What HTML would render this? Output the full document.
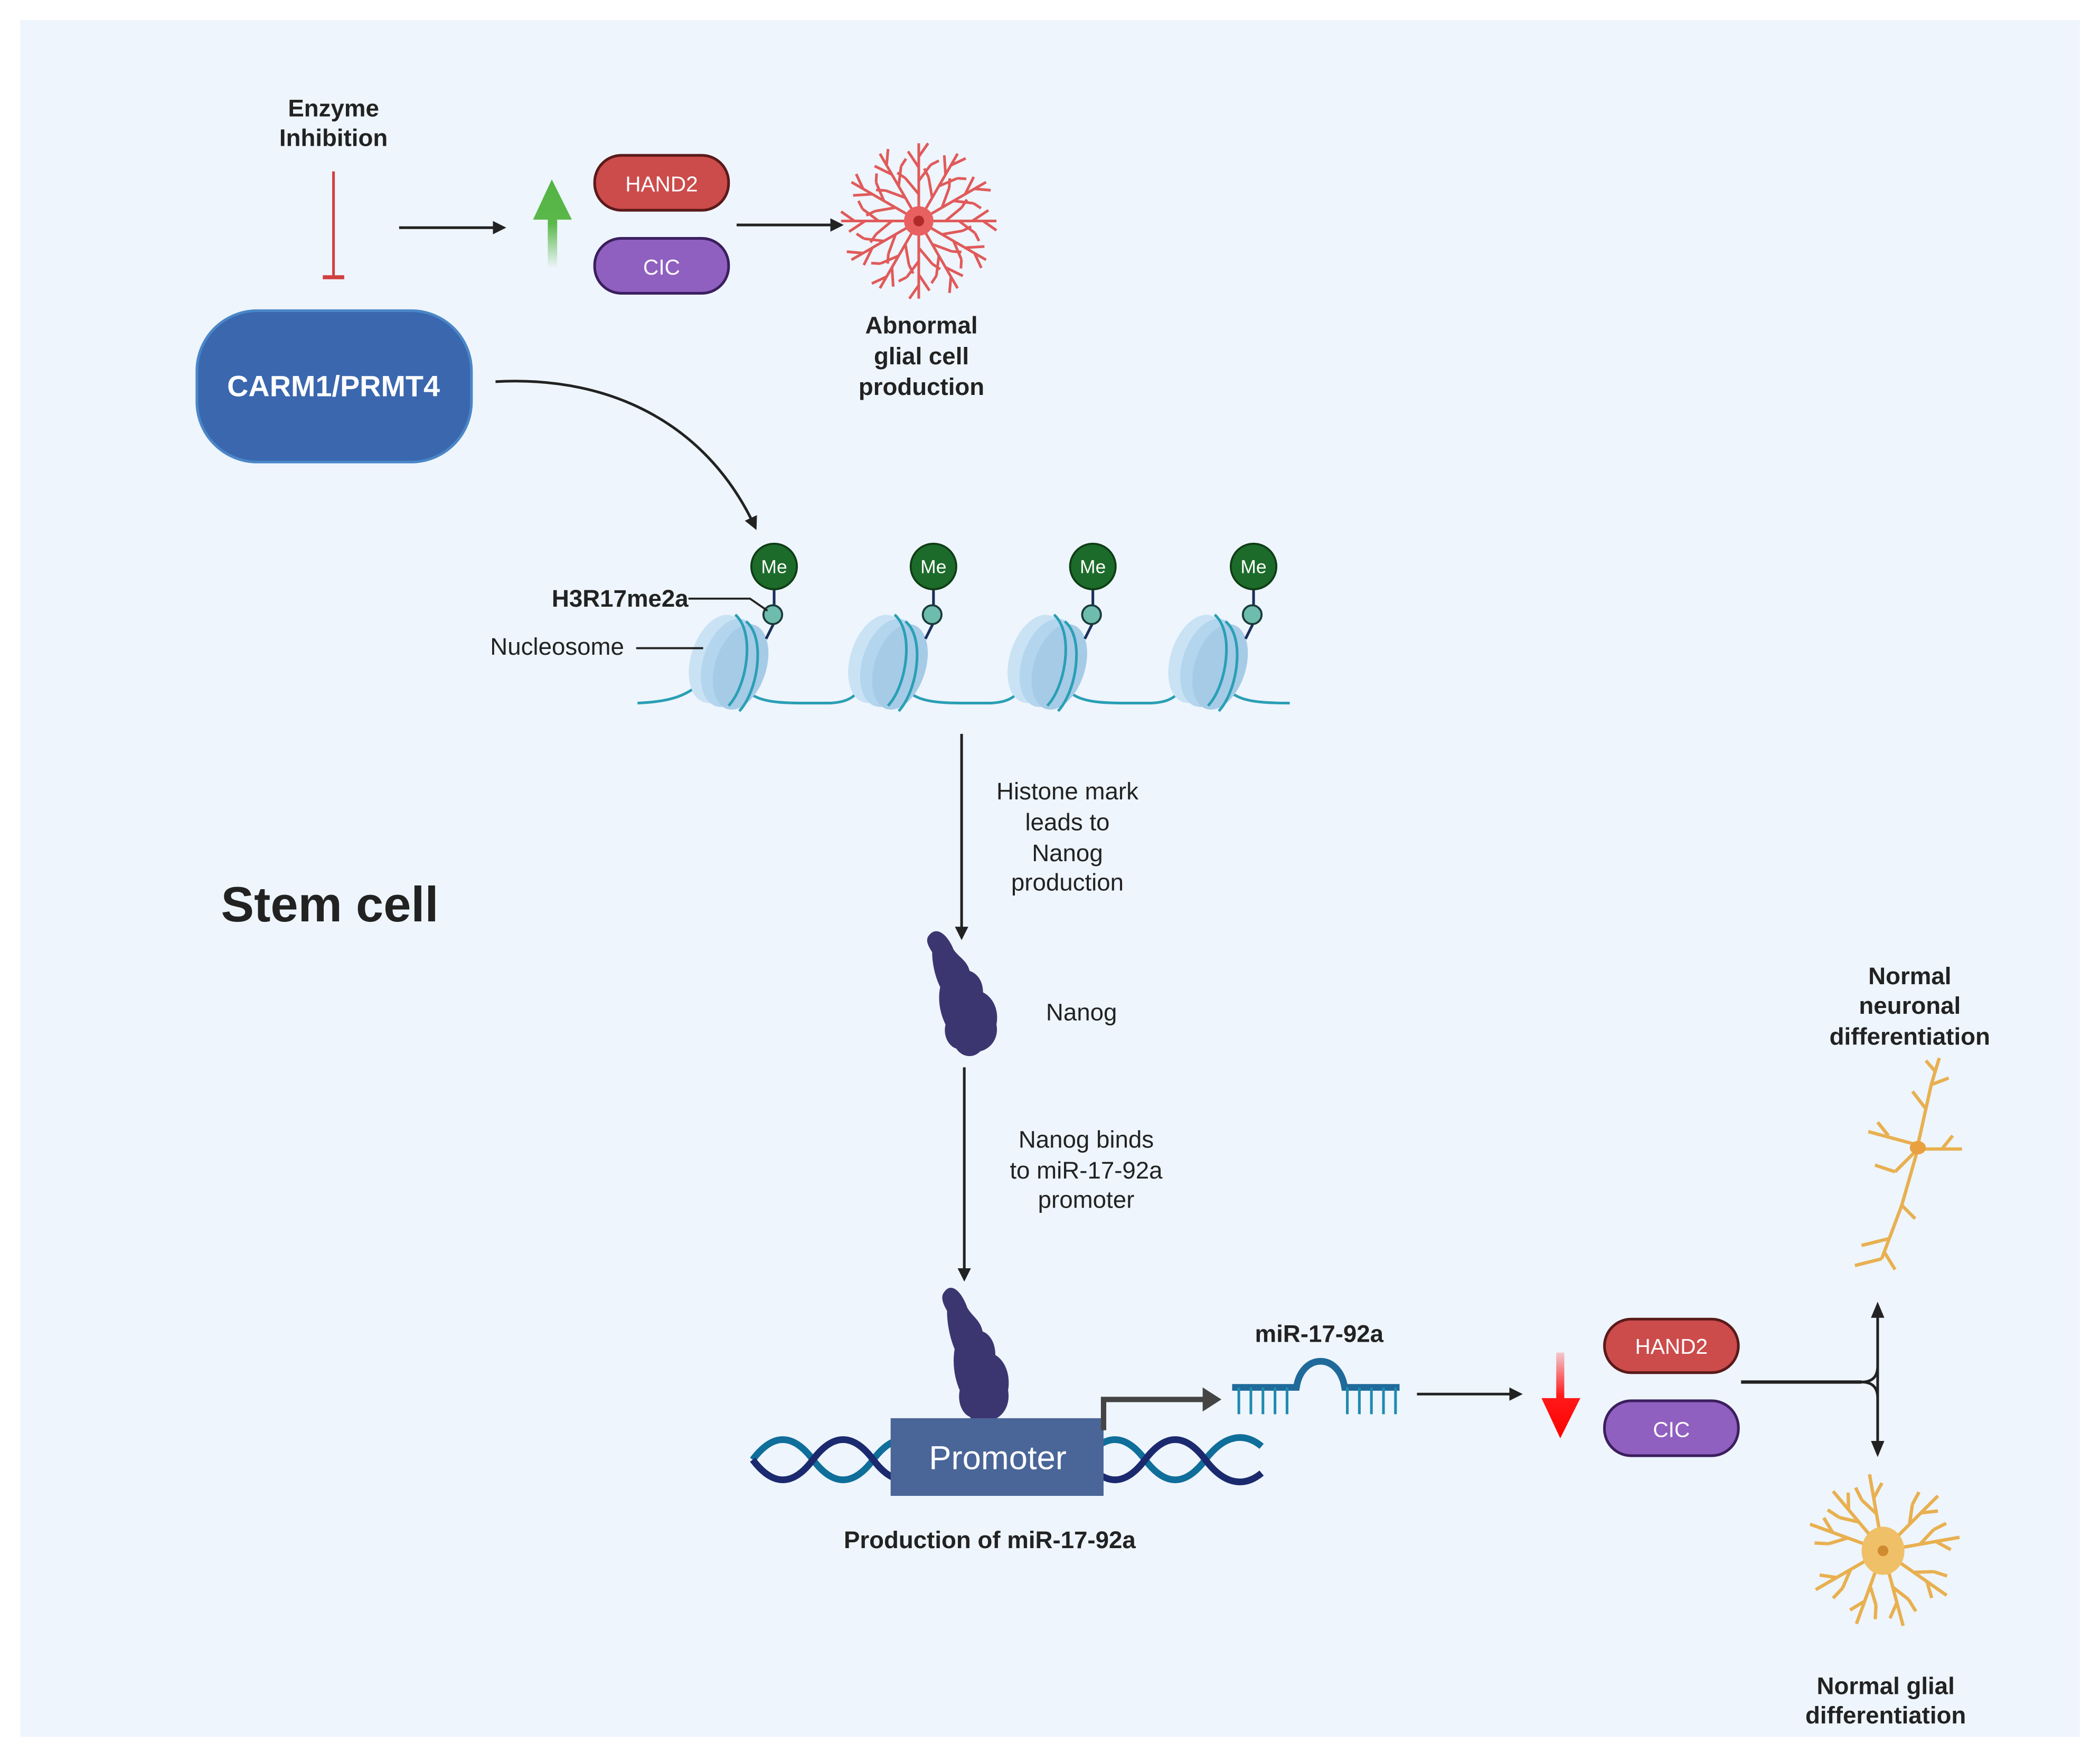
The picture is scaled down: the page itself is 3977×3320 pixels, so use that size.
<!DOCTYPE html>
<html><head><meta charset="utf-8"><style>
html,body{margin:0;padding:0;background:#fff;}
svg{display:block;}
text{font-family:"Liberation Sans",sans-serif;}
</style></head><body>
<svg width="3977" height="3320" viewBox="0 0 1568 1309" xmlns="http://www.w3.org/2000/svg">
<defs>
<marker id="ah" markerWidth="10" markerHeight="10" refX="8" refY="5" orient="auto" markerUnits="userSpaceOnUse"><path d="M0,0 L10,5 L0,10 z" fill="#222"/></marker>
<linearGradient id="gg" x1="0" y1="1" x2="0" y2="0"><stop offset="0" stop-color="#5bb84a" stop-opacity="0"/><stop offset="0.5" stop-color="#5bb84a"/><stop offset="1" stop-color="#52b344"/></linearGradient>
<linearGradient id="rg" x1="0" y1="0" x2="0" y2="1"><stop offset="0" stop-color="#ff1a1a" stop-opacity="0.2"/><stop offset="0.5" stop-color="#ff1a1a"/><stop offset="1" stop-color="#ff0000"/></linearGradient>
<g id="nuc">
<ellipse cx="0" cy="0" rx="20" ry="34" transform="rotate(18)" fill="#c9e2f4"/>
<ellipse cx="9" cy="3" rx="20" ry="34" transform="rotate(18 9 3)" fill="#b3d5ee"/>
<ellipse cx="17" cy="6" rx="19" ry="33" transform="rotate(18 17 6)" fill="#a6cbe6"/>
<path d="M3,-33 C18,-20 12,20 -2,35" transform="translate(10,0)" fill="none" stroke="#2a9fb5" stroke-width="2"/>
<path d="M3,-30 C18,-18 12,22 -2,37" transform="translate(18,2)" fill="none" stroke="#2a9fb5" stroke-width="2"/>
</g>
<g id="me">
<line x1="0" y1="16" x2="0" y2="30" stroke="#1a2e5a" stroke-width="2"/>
<line x1="0" y1="42" x2="-6" y2="54" stroke="#1a2e5a" stroke-width="2"/>
<circle cx="0" cy="0" r="17" fill="#1c6b2a" stroke="#0f3d16" stroke-width="1.5"/>
<text x="0" y="5" font-size="14" fill="#fff" text-anchor="middle">Me</text>
<circle cx="-1" cy="36" r="7" fill="#6dbcae" stroke="#1a3a3a" stroke-width="1.5"/>
</g>
<path id="abr" d="M0,0 L0,-58 M0,-20 L-10,-32 M0,-30 L9,-42 M0,-40 L-8,-52 M0,-48 L7,-58 M-10,-32 L-16,-36 M9,-42 L15,-45" fill="none" stroke="#e05a5a" stroke-width="2"/>
<path id="gbr" d="M0,0 L0,-58 M0,-28 L-9,-40 M0,-40 L8,-50 M-9,-40 L-12,-50" fill="none" stroke="#e8b050" stroke-width="2.5"/>
<path id="nanog" d="M-24,-45 C-18,-52 -10,-44 -6,-34 C-2,-28 4,-26 6,-18 C12,-16 16,-10 16,-2 C24,2 28,12 26,22 C28,32 22,40 14,42 C8,48 0,46 -4,40 C-10,38 -14,30 -12,22 C-16,14 -18,4 -16,-6 C-20,-14 -22,-24 -22,-32 C-26,-38 -27,-42 -24,-45 z" fill="#3c3670"/>
</defs>
<rect x="0" y="0" width="1568" height="1309" fill="#fff"/>
<rect x="15" y="15" width="1538" height="1282" fill="#eef5fc"/>

<text x="249" y="87" font-size="18" font-weight="bold" text-anchor="middle" fill="#222">Enzyme</text>
<text x="249" y="109" font-size="18" font-weight="bold" text-anchor="middle" fill="#222">Inhibition</text>
<line x1="249" y1="128" x2="249" y2="207" stroke="#d04040" stroke-width="2"/>
<line x1="241" y1="207" x2="257" y2="207" stroke="#d04040" stroke-width="3"/>
<rect x="147" y="232" width="205" height="113" rx="45" fill="#3a67ae" stroke="#4a86c8" stroke-width="2"/>
<text x="249" y="296" font-size="22" font-weight="bold" text-anchor="middle" fill="#fff">CARM1/PRMT4</text>
<line x1="298" y1="170" x2="376" y2="170" stroke="#222" stroke-width="2" marker-end="url(#ah)"/>
<path d="M409,200 L409,164 L398,164 L412,134 L427,164 L416,164 L416,200 z" fill="url(#gg)"/>
<rect x="444" y="116" width="100" height="41" rx="20" fill="#cc4b4b" stroke="#5a1a1a" stroke-width="2"/>
<text x="494" y="143" font-size="16" text-anchor="middle" fill="#fff">HAND2</text>
<rect x="444" y="178" width="100" height="41" rx="20" fill="#9060c0" stroke="#3b1f5e" stroke-width="2"/>
<text x="494" y="205" font-size="16" text-anchor="middle" fill="#fff">CIC</text>
<line x1="550" y1="168" x2="628" y2="168" stroke="#222" stroke-width="2" marker-end="url(#ah)"/>
<g transform="translate(686,165)">
<use href="#abr" transform="rotate(0)"/><use href="#abr" transform="rotate(30)"/><use href="#abr" transform="rotate(60)"/><use href="#abr" transform="rotate(90)"/><use href="#abr" transform="rotate(120)"/><use href="#abr" transform="rotate(150)"/><use href="#abr" transform="rotate(180)"/><use href="#abr" transform="rotate(210)"/><use href="#abr" transform="rotate(240)"/><use href="#abr" transform="rotate(270)"/><use href="#abr" transform="rotate(300)"/><use href="#abr" transform="rotate(330)"/>
<circle r="11" fill="#e86060"/><circle r="4" fill="#b02a2a"/>
</g>
<text x="688" y="249" font-size="18" font-weight="bold" text-anchor="middle" fill="#222">Abnormal</text>
<text x="688" y="272" font-size="18" font-weight="bold" text-anchor="middle" fill="#222">glial cell</text>
<text x="688" y="295" font-size="18" font-weight="bold" text-anchor="middle" fill="#222">production</text>
<path d="M370,285 C460,280 530,320 564,394" fill="none" stroke="#222" stroke-width="2" marker-end="url(#ah)"/>

<path d="M476,525 C500,524 515,520 528,505 M550,505 C558,522 570,525 600,525 L620,525 C635,524 640,520 648,505 M670,505 C678,522 690,525 720,525 L740,525 C755,524 760,520 768,505 M790,505 C798,522 810,525 840,525 L860,525 C875,524 880,520 888,505 M910,505 C918,522 930,525 963,525" fill="none" stroke="#2a9fb5" stroke-width="2"/>
<use href="#nuc" x="536" y="492"/><use href="#nuc" x="655" y="492"/><use href="#nuc" x="774" y="492"/><use href="#nuc" x="894" y="492"/>
<use href="#me" x="578" y="423"/><use href="#me" x="697" y="423"/><use href="#me" x="816" y="423"/><use href="#me" x="936" y="423"/>
<text x="514" y="453" font-size="18" font-weight="bold" text-anchor="end" fill="#222">H3R17me2a</text>
<path d="M514,447 L560,447 L573,456" fill="none" stroke="#222" stroke-width="1.5"/>
<text x="466" y="489" font-size="18" text-anchor="end" fill="#222">Nucleosome</text>
<line x1="475" y1="484" x2="525" y2="484" stroke="#222" stroke-width="1.5"/>

<line x1="718" y1="548" x2="718" y2="700" stroke="#222" stroke-width="2" marker-end="url(#ah)"/>
<g font-size="18" text-anchor="middle" fill="#222">
<text x="797" y="597">Histone mark</text><text x="797" y="620">leads to</text><text x="797" y="643">Nanog</text><text x="797" y="665">production</text>
<text x="811" y="857">Nanog binds</text><text x="811" y="880">to miR-17-92a</text><text x="811" y="902">promoter</text>
</g>
<text x="165" y="688" font-size="37" font-weight="bold" fill="#222">Stem cell</text>
<use href="#nanog" x="718" y="743"/>
<text x="781" y="762" font-size="18" fill="#222">Nanog</text>
<line x1="720" y1="797" x2="720" y2="955" stroke="#222" stroke-width="2" marker-end="url(#ah)"/>
<use href="#nanog" transform="translate(728,1014) scale(0.95,1.1)"/>

<path d="M562,1090 C577,1070 592,1070 607,1090 S637,1110 652,1090 S682,1070 697,1090" fill="none" stroke="#0f6e9a" stroke-width="5"/>
<path d="M562,1090 C577,1110 592,1110 607,1090 S637,1070 652,1090 S682,1110 697,1090" fill="none" stroke="#1b2a6e" stroke-width="5"/>
<path d="M810,1090 C825,1070 840,1070 855,1090 S885,1110 900,1090 S930,1070 942,1080" fill="none" stroke="#0f6e9a" stroke-width="5"/>
<path d="M810,1090 C825,1110 840,1110 855,1090 S885,1070 900,1090 S930,1110 942,1100" fill="none" stroke="#1b2a6e" stroke-width="5"/>
<rect x="665" y="1059" width="159" height="58" fill="#4a6598"/>
<text x="745" y="1097" font-size="25" text-anchor="middle" fill="#fff">Promoter</text>
<text x="739" y="1156" font-size="18" font-weight="bold" text-anchor="middle" fill="#222">Production of miR-17-92a</text>
<path d="M824,1068 L824,1045 L900,1045" fill="none" stroke="#444" stroke-width="4"/>
<path d="M898,1036 L912,1045 L898,1054 z" fill="#444"/>
<text x="985" y="1002" font-size="18" font-weight="bold" text-anchor="middle" fill="#222">miR-17-92a</text>
<path d="M920,1036 L968,1036 C972,1010 1000,1010 1004,1036 L1045,1036" fill="none" stroke="#1f6a9a" stroke-width="5"/>
<g stroke="#1f8ab0" stroke-width="2">
<line x1="925" y1="1036" x2="925" y2="1056"/><line x1="934" y1="1036" x2="934" y2="1056"/><line x1="943" y1="1036" x2="943" y2="1056"/><line x1="952" y1="1036" x2="952" y2="1056"/><line x1="961" y1="1036" x2="961" y2="1056"/>
<line x1="1006" y1="1036" x2="1006" y2="1056"/><line x1="1015" y1="1036" x2="1015" y2="1056"/><line x1="1024" y1="1036" x2="1024" y2="1056"/><line x1="1033" y1="1036" x2="1033" y2="1056"/><line x1="1042" y1="1036" x2="1042" y2="1056"/>
</g>
<line x1="1058" y1="1041" x2="1135" y2="1041" stroke="#222" stroke-width="2" marker-end="url(#ah)"/>
<path d="M1162,1010 L1162,1044 L1151,1044 L1165,1074 L1180,1044 L1168,1044 L1168,1010 z" fill="url(#rg)"/>
<rect x="1198" y="985" width="100" height="40" rx="20" fill="#cc4b4b" stroke="#5a1a1a" stroke-width="2"/>
<text x="1248" y="1011" font-size="16" text-anchor="middle" fill="#fff">HAND2</text>
<rect x="1198" y="1046" width="100" height="41" rx="20" fill="#9060c0" stroke="#3b1f5e" stroke-width="2"/>
<text x="1248" y="1073" font-size="16" text-anchor="middle" fill="#fff">CIC</text>
<line x1="1300" y1="1032" x2="1390" y2="1032" stroke="#222" stroke-width="2.5"/>
<path d="M1390,1032 C1398,1032 1402,1028 1402,1020 L1402,975 M1402,1020 L1402,1086 M1390,1032 C1398,1032 1402,1036 1402,1044" fill="none" stroke="#222" stroke-width="2"/>
<path d="M1397,984 L1402,972 L1407,984 z" fill="#222"/>
<path d="M1397,1076 L1402,1088 L1407,1076 z" fill="#222"/>

<g stroke="#e8b050" stroke-width="2.5" fill="none">
<path d="M1432,855 L1442,810 L1448,790 M1442,810 L1455,805 M1438,828 L1428,815 M1445,800 L1438,792"/>
<path d="M1432,855 L1395,845 M1410,848 L1402,838 M1432,858 L1465,858 M1450,858 L1458,848 M1432,858 L1415,875 M1415,875 L1400,870"/>
<path d="M1432,858 L1420,900 L1405,940 M1410,925 L1390,930 M1405,940 L1385,945 M1407,935 L1415,948 M1420,900 L1430,910"/>
</g>
<ellipse cx="1432" cy="857" rx="6" ry="5" fill="#e8a040"/>
<text x="1426" y="735" font-size="18" font-weight="bold" text-anchor="middle" fill="#222">Normal</text>
<text x="1426" y="757" font-size="18" font-weight="bold" text-anchor="middle" fill="#222">neuronal</text>
<text x="1426" y="780" font-size="18" font-weight="bold" text-anchor="middle" fill="#222">differentiation</text>
<g transform="translate(1406,1158)">
<use href="#gbr" transform="rotate(-10)"/><use href="#gbr" transform="rotate(45)"/><use href="#gbr" transform="rotate(80)"/><use href="#gbr" transform="rotate(125)"/><use href="#gbr" transform="rotate(165)"/><use href="#gbr" transform="rotate(200)"/><use href="#gbr" transform="rotate(240)"/><use href="#gbr" transform="rotate(290)"/><use href="#gbr" transform="rotate(320)"/>
<ellipse rx="16" ry="18" fill="#f0c068"/><circle r="4" fill="#d08a30"/>
</g>
<text x="1408" y="1265" font-size="18" font-weight="bold" text-anchor="middle" fill="#222">Normal glial</text>
<text x="1408" y="1287" font-size="18" font-weight="bold" text-anchor="middle" fill="#222">differentiation</text>
</svg>
</body></html>
